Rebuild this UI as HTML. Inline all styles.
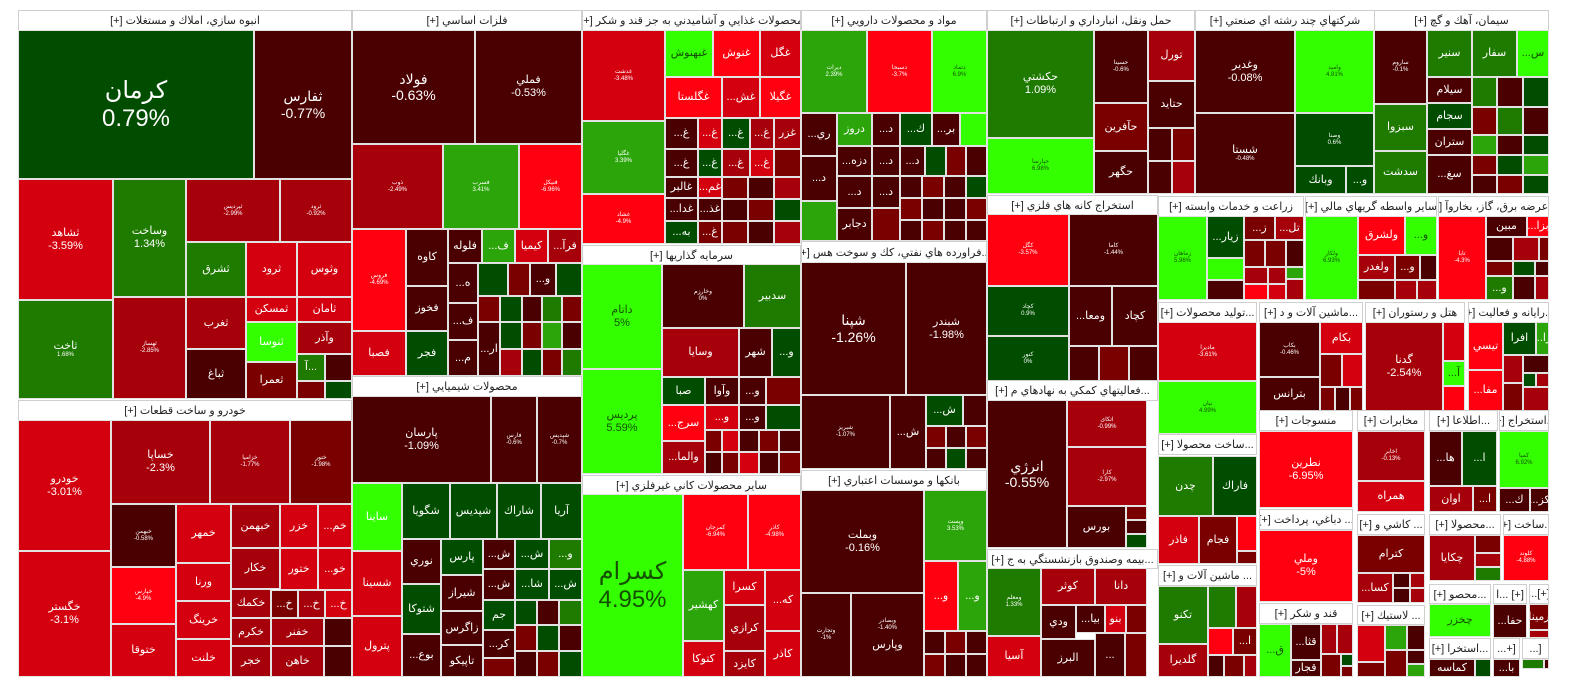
<!DOCTYPE html>
<html><head><meta charset="utf-8"><style>
body{margin:0;width:1584px;height:698px;background:#fff;position:relative;overflow:hidden;font-family:"Liberation Sans","DejaVu Sans",sans-serif}
.t{position:absolute;box-sizing:border-box;border:1px solid #e2e2e2;display:flex;flex-direction:column;align-items:center;justify-content:center;color:#fff;font-size:12px;line-height:1.15;text-align:center;overflow:hidden;white-space:nowrap;direction:ltr}
.h{position:absolute;box-sizing:border-box;background:#fff;border:1px solid #cfcfcf;color:#222;font-size:11px;display:flex;align-items:center;justify-content:center;direction:rtl;overflow:hidden;white-space:nowrap}
.r1{background:#4a0000}.r2{background:#7a0000}.r3{background:#a6000b}.r4{background:#d4000f}.r5{background:#ff0010}
.g1{background:#004d00}.g2{background:#1e7b00}.g3{background:#2ba50a}.g4{background:#33ff00;color:#145000}
.s{font-size:6px}.m{font-size:11px}.l{font-size:14px}.xl{font-size:24px}
</style></head><body>

<!-- Sector 1 -->
<div class="h" style="left:18px;top:10px;width:334px;height:21px">انبوه سازي، املاك و مستغلات [+]</div>
<div class="t g1 xl" style="left:18px;top:30px;width:236px;height:149px">كرمان<br>0.79%</div>
<div class="t r1 l" style="left:254px;top:30px;width:98px;height:149px">ثفارس<br>-0.77%</div>
<div class="t r4 m" style="left:18px;top:179px;width:95px;height:121px">ثشاهد<br>-3.59%</div>
<div class="t g2 s" style="left:18px;top:300px;width:95px;height:99px"><span class="m">ثاخت</span>1.68%</div>
<div class="t g2 m" style="left:113px;top:179px;width:73px;height:118px">وساخت<br>1.34%</div>
<div class="t r3 s" style="left:113px;top:297px;width:73px;height:102px">ثهساز<br>-2.85%</div>
<div class="t r3 s" style="left:186px;top:179px;width:94px;height:63px">ثپردیس<br>-2.99%</div>
<div class="t r3 s" style="left:280px;top:179px;width:72px;height:63px">ثرود<br>-0.92%</div>
<div class="t g2 m" style="left:186px;top:242px;width:60px;height:55px">ثشرق</div>
<div class="t r4 m" style="left:246px;top:242px;width:51px;height:55px">ثرود</div>
<div class="t r4 m" style="left:297px;top:242px;width:55px;height:55px">وثوس</div>
<div class="t r3 m" style="left:186px;top:297px;width:60px;height:52px">ثغرب</div>
<div class="t r4 m" style="left:246px;top:297px;width:51px;height:25px">ثمسكن</div>
<div class="t r4 m" style="left:297px;top:297px;width:55px;height:25px">ثامان</div>
<div class="t g4 m" style="left:246px;top:322px;width:51px;height:40px;color:#fff">ثنوسا</div>
<div class="t r3 m" style="left:297px;top:322px;width:55px;height:32px">وآذر</div>
<div class="t r1 m" style="left:186px;top:349px;width:60px;height:50px">ثباغ</div>
<div class="t r2 m" style="left:246px;top:362px;width:51px;height:37px">ثعمرا</div>
<div class="t g2 m" style="left:297px;top:354px;width:28px;height:27px">آ...</div>
<div class="t r1" style="left:325px;top:354px;width:27px;height:27px"></div>
<div class="t r2" style="left:297px;top:381px;width:28px;height:18px"></div>
<div class="t g1" style="left:325px;top:381px;width:27px;height:18px"></div>

<!-- Khodro -->
<div class="h" style="left:18px;top:400px;width:334px;height:21px">خودرو و ساخت قطعات [+]</div>
<div class="t r4 m" style="left:18px;top:420px;width:93px;height:131px">خودرو<br>-3.01%</div>
<div class="t r4 m" style="left:18px;top:551px;width:93px;height:126px">خگستر<br>-3.1%</div>
<div class="t r3 m" style="left:111px;top:420px;width:99px;height:84px">خساپا<br>-2.3%</div>
<div class="t r3 s" style="left:210px;top:420px;width:80px;height:84px">خزامیا<br>-1.77%</div>
<div class="t r2 s" style="left:290px;top:420px;width:62px;height:84px">ختور<br>-1.98%</div>
<div class="t r1 s" style="left:111px;top:504px;width:65px;height:63px">خبهمن<br>-0.58%</div>
<div class="t r5 s" style="left:111px;top:567px;width:65px;height:57px">خپارس<br>-4.9%</div>
<div class="t r4 m" style="left:111px;top:624px;width:65px;height:53px">ختوقا</div>
<div class="t r4 m" style="left:176px;top:504px;width:55px;height:59px">خمهر</div>
<div class="t r4 m" style="left:176px;top:563px;width:55px;height:38px">ورنا</div>
<div class="t r4 m" style="left:176px;top:601px;width:55px;height:38px">خرينگ</div>
<div class="t r4 m" style="left:176px;top:639px;width:55px;height:38px">خلنت</div>
<div class="t r3 m" style="left:231px;top:504px;width:49px;height:44px">خبهمن</div>
<div class="t r4 m" style="left:280px;top:504px;width:38px;height:44px">خزر</div>
<div class="t r4 m" style="left:318px;top:504px;width:34px;height:44px">...خم</div>
<div class="t r3 m" style="left:231px;top:548px;width:49px;height:41px">خكار</div>
<div class="t r4 m" style="left:280px;top:548px;width:38px;height:42px">ختور</div>
<div class="t r4 m" style="left:318px;top:548px;width:34px;height:42px">...خو</div>
<div class="t r3 m" style="left:231px;top:589px;width:40px;height:29px">خكمك</div>
<div class="t r2 m" style="left:271px;top:590px;width:27px;height:28px">...خ</div>
<div class="t r3 m" style="left:298px;top:590px;width:27px;height:28px">...خ</div>
<div class="t r4 m" style="left:325px;top:590px;width:27px;height:28px">...خ</div>
<div class="t r3 m" style="left:231px;top:618px;width:40px;height:28px">خكرم</div>
<div class="t r3 m" style="left:271px;top:618px;width:53px;height:28px">خفنر</div>
<div class="t r1" style="left:324px;top:618px;width:28px;height:28px"></div>
<div class="t r3 m" style="left:231px;top:646px;width:40px;height:31px">خجر</div>
<div class="t r3 m" style="left:271px;top:646px;width:53px;height:31px">خاهن</div>
<div class="t r1" style="left:324px;top:646px;width:28px;height:31px"></div>

<!-- Felezat -->
<div class="h" style="left:352px;top:10px;width:230px;height:21px">فلزات اساسي [+]</div>
<div class="t r1 l" style="left:352px;top:30px;width:123px;height:114px">فولاد<br>-0.63%</div>
<div class="t r1 m" style="left:475px;top:30px;width:107px;height:114px">فملي<br>-0.53%</div>
<div class="t r3 s" style="left:352px;top:144px;width:91px;height:85px">ذوب<br>-2.49%</div>
<div class="t g3 s" style="left:443px;top:144px;width:76px;height:85px">فسرب<br>3.41%</div>
<div class="t r5 s" style="left:519px;top:144px;width:63px;height:85px">فنيكل<br>-6.96%</div>
<div class="t r5 s" style="left:352px;top:229px;width:54px;height:102px">فروس<br>-4.69%</div>
<div class="t r4 m" style="left:352px;top:331px;width:54px;height:45px">فصبا</div>
<div class="t r1 m" style="left:406px;top:229px;width:42px;height:57px">كاوه</div>
<div class="t r1 m" style="left:406px;top:286px;width:42px;height:45px">فخوز</div>
<div class="t g1 m" style="left:406px;top:331px;width:42px;height:45px">فجر</div>
<div class="t r1 m" style="left:448px;top:229px;width:34px;height:34px">فلوله</div>
<div class="t g3 m" style="left:482px;top:229px;width:33px;height:34px">...ف</div>
<div class="t r4 m" style="left:515px;top:229px;width:33px;height:34px">كيميا</div>
<div class="t r3 m" style="left:548px;top:229px;width:34px;height:34px">...فرآ</div>
<div class="t r1 m" style="left:448px;top:263px;width:30px;height:40px">...ه</div>
<div class="t r1 m" style="left:448px;top:303px;width:30px;height:37px">...ف</div>
<div class="t r1 m" style="left:448px;top:340px;width:30px;height:36px">...م</div>
<div class="t g1" style="left:478px;top:263px;width:30px;height:33px"></div>
<div class="t r2" style="left:508px;top:263px;width:22px;height:33px"></div>
<div class="t r1 m" style="left:530px;top:263px;width:26px;height:33px">...و</div>
<div class="t g1" style="left:556px;top:263px;width:26px;height:33px"></div>
<div class="t r2" style="left:478px;top:296px;width:22px;height:26px"></div>
<div class="t g1" style="left:500px;top:296px;width:22px;height:26px"></div>
<div class="t r1" style="left:522px;top:296px;width:20px;height:26px"></div>
<div class="t g2" style="left:542px;top:296px;width:20px;height:26px"></div>
<div class="t r2" style="left:562px;top:296px;width:20px;height:26px"></div>
<div class="t r1 m" style="left:478px;top:322px;width:22px;height:54px">...ار</div>
<div class="t g1" style="left:500px;top:322px;width:22px;height:27px"></div>
<div class="t r2" style="left:522px;top:322px;width:20px;height:27px"></div>
<div class="t g3" style="left:542px;top:322px;width:20px;height:27px"></div>
<div class="t r1" style="left:562px;top:322px;width:20px;height:27px"></div>
<div class="t r3" style="left:500px;top:349px;width:22px;height:27px"></div>
<div class="t g1" style="left:522px;top:349px;width:20px;height:27px"></div>
<div class="t r2" style="left:542px;top:349px;width:20px;height:27px"></div>
<div class="t g2" style="left:562px;top:349px;width:20px;height:27px"></div>

<!-- Shimiyai -->
<div class="h" style="left:352px;top:376px;width:230px;height:21px">محصولات شيميايي [+]</div>
<div class="t r1 m" style="left:352px;top:396px;width:139px;height:87px">پارسان<br>-1.09%</div>
<div class="t r1 s" style="left:491px;top:396px;width:46px;height:87px">فارس<br>-0.6%</div>
<div class="t r1 s" style="left:537px;top:396px;width:45px;height:87px">شپدیس<br>-0.7%</div>
<div class="t g4 m" style="left:352px;top:483px;width:50px;height:68px;color:#fff">ساينا</div>
<div class="t r4 m" style="left:352px;top:551px;width:50px;height:65px">شسينا</div>
<div class="t r4 m" style="left:352px;top:616px;width:50px;height:61px">پترول</div>
<div class="t g1 m" style="left:402px;top:483px;width:48px;height:56px">شگويا</div>
<div class="t g1 m" style="left:450px;top:483px;width:47px;height:56px">شپديس</div>
<div class="t g1 m" style="left:497px;top:483px;width:44px;height:56px">شاراك</div>
<div class="t g1 m" style="left:541px;top:483px;width:41px;height:56px">آريا</div>
<div class="t r1 m" style="left:402px;top:539px;width:39px;height:45px">نوري</div>
<div class="t g1 m" style="left:402px;top:584px;width:39px;height:50px">شتوكا</div>
<div class="t r1 m" style="left:402px;top:634px;width:39px;height:43px">...بوع</div>
<div class="t g1 m" style="left:441px;top:539px;width:42px;height:36px">پارس</div>
<div class="t r1 m" style="left:441px;top:575px;width:42px;height:36px">شيراز</div>
<div class="t r1 m" style="left:441px;top:611px;width:42px;height:34px">زاگرس</div>
<div class="t r1 m" style="left:441px;top:645px;width:42px;height:32px">تاپيكو</div>
<div class="t r1 m" style="left:483px;top:539px;width:32px;height:30px">...ش</div>
<div class="t g1 m" style="left:515px;top:539px;width:34px;height:30px">...ش</div>
<div class="t g2 m" style="left:549px;top:539px;width:33px;height:30px">...و</div>
<div class="t r1 m" style="left:483px;top:569px;width:32px;height:31px">...ش</div>
<div class="t g1 m" style="left:515px;top:569px;width:34px;height:31px">...شا</div>
<div class="t g1 m" style="left:549px;top:569px;width:33px;height:31px">...ش</div>
<div class="t g1 m" style="left:483px;top:600px;width:32px;height:30px">جم</div>
<div class="t r1 m" style="left:483px;top:630px;width:32px;height:28px">...كر</div>
<div class="t r2" style="left:483px;top:658px;width:32px;height:19px"></div>
<div class="t g1" style="left:515px;top:600px;width:22px;height:25px"></div>
<div class="t r1" style="left:537px;top:600px;width:22px;height:25px"></div>
<div class="t g2" style="left:559px;top:600px;width:23px;height:25px"></div>
<div class="t r2" style="left:515px;top:625px;width:22px;height:26px"></div>
<div class="t g1" style="left:537px;top:625px;width:22px;height:26px"></div>
<div class="t r1" style="left:559px;top:625px;width:23px;height:26px"></div>
<div class="t r1" style="left:515px;top:651px;width:22px;height:26px"></div>
<div class="t r2" style="left:537px;top:651px;width:22px;height:26px"></div>
<div class="t g1" style="left:559px;top:651px;width:23px;height:26px"></div>

<!-- Ghaza -->
<div class="h" style="left:582px;top:10px;width:219px;height:21px">محصولات غذايي و آشاميدني به جز قند و شكر [+]</div>
<div class="t r4 s" style="left:582px;top:30px;width:83px;height:91px">غدشت<br>-3.48%</div>
<div class="t g3 s" style="left:582px;top:121px;width:83px;height:73px">غگلپا<br>3.39%</div>
<div class="t r5 s" style="left:582px;top:194px;width:83px;height:50px">غشاد<br>-4.9%</div>
<div class="t g4 m" style="left:665px;top:30px;width:48px;height:47px;color:#145000">غبهنوش</div>
<div class="t r5 m" style="left:713px;top:30px;width:47px;height:47px">غنوش</div>
<div class="t r4 m" style="left:760px;top:30px;width:41px;height:47px">غگل</div>
<div class="t r5 m" style="left:665px;top:77px;width:57px;height:41px">غگلستا</div>
<div class="t r4 m" style="left:722px;top:77px;width:38px;height:41px">...غش</div>
<div class="t r5 m" style="left:760px;top:77px;width:41px;height:41px">غگيلا</div>
<div class="t r1 m" style="left:665px;top:118px;width:33px;height:31px">...غ</div>
<div class="t r4 m" style="left:698px;top:118px;width:24px;height:31px">...غ</div>
<div class="t g1 m" style="left:722px;top:118px;width:28px;height:31px">...غ</div>
<div class="t r3 m" style="left:750px;top:118px;width:24px;height:31px">...غ</div>
<div class="t r3 m" style="left:774px;top:118px;width:27px;height:31px">غزر</div>
<div class="t r1 m" style="left:665px;top:149px;width:33px;height:28px">...غ</div>
<div class="t g1 m" style="left:698px;top:149px;width:24px;height:28px">...غ</div>
<div class="t r3 m" style="left:722px;top:149px;width:28px;height:28px">...غ</div>
<div class="t r4 m" style="left:750px;top:149px;width:24px;height:28px">...غ</div>
<div class="t r2" style="left:774px;top:149px;width:27px;height:28px"></div>
<div class="t r1 m" style="left:665px;top:177px;width:33px;height:21px">غالبر</div>
<div class="t r4 m" style="left:698px;top:177px;width:24px;height:21px">...غم</div>
<div class="t r1 m" style="left:665px;top:198px;width:33px;height:23px">...غدا</div>
<div class="t r1 m" style="left:698px;top:198px;width:24px;height:23px">...غذ</div>
<div class="t g1 m" style="left:665px;top:221px;width:33px;height:23px">...به</div>
<div class="t r2 m" style="left:698px;top:221px;width:24px;height:23px">...غ</div>
<div class="t r2" style="left:722px;top:177px;width:26px;height:22px"></div>
<div class="t r1" style="left:748px;top:177px;width:26px;height:22px"></div>
<div class="t r3" style="left:774px;top:177px;width:27px;height:22px"></div>
<div class="t r1" style="left:722px;top:199px;width:26px;height:22px"></div>
<div class="t r2" style="left:748px;top:199px;width:26px;height:22px"></div>
<div class="t g1" style="left:774px;top:199px;width:27px;height:22px"></div>
<div class="t r2" style="left:722px;top:221px;width:26px;height:23px"></div>
<div class="t r1" style="left:748px;top:221px;width:26px;height:23px"></div>
<div class="t r3" style="left:774px;top:221px;width:27px;height:23px"></div>

<!-- Sarmaye -->
<div class="h" style="left:582px;top:245px;width:219px;height:20px">سرمايه گذاريها [+]</div>
<div class="t g4 s" style="left:582px;top:264px;width:80px;height:105px"><span class="m">داتام</span><span class="m">5%</span></div>
<div class="t g4 s" style="left:582px;top:369px;width:80px;height:105px"><span class="m">پرديس</span><span class="m">5.59%</span></div>
<div class="t r1 s" style="left:662px;top:264px;width:82px;height:64px">وخارزم<br>0%</div>
<div class="t g2 m" style="left:744px;top:264px;width:57px;height:64px">سدبير</div>
<div class="t r3 m" style="left:662px;top:328px;width:77px;height:49px">وسايا</div>
<div class="t r1 m" style="left:739px;top:328px;width:33px;height:49px">شهر</div>
<div class="t g1 m" style="left:772px;top:328px;width:29px;height:49px">...و</div>
<div class="t g1 m" style="left:662px;top:377px;width:43px;height:28px">صبا</div>
<div class="t r1 m" style="left:705px;top:377px;width:34px;height:28px">وآوا</div>
<div class="t r1 m" style="left:739px;top:377px;width:27px;height:28px">...و</div>
<div class="t r2" style="left:766px;top:377px;width:35px;height:28px"></div>
<div class="t r5 m" style="left:662px;top:405px;width:43px;height:36px">...سرج</div>
<div class="t r3 m" style="left:662px;top:441px;width:43px;height:33px">...والما</div>
<div class="t r4 m" style="left:705px;top:405px;width:34px;height:25px">...و</div>
<div class="t r1 m" style="left:739px;top:405px;width:27px;height:25px">...و</div>
<div class="t g1" style="left:766px;top:405px;width:35px;height:25px"></div>
<div class="t r2" style="left:705px;top:430px;width:17px;height:22px"></div>
<div class="t r4" style="left:722px;top:430px;width:17px;height:22px"></div>
<div class="t r1" style="left:739px;top:430px;width:20px;height:22px"></div>
<div class="t r2" style="left:759px;top:430px;width:20px;height:22px"></div>
<div class="t r1" style="left:779px;top:430px;width:22px;height:22px"></div>
<div class="t r1" style="left:705px;top:452px;width:17px;height:22px"></div>
<div class="t r2" style="left:722px;top:452px;width:17px;height:22px"></div>
<div class="t r4" style="left:739px;top:452px;width:20px;height:22px"></div>
<div class="t r1" style="left:759px;top:452px;width:20px;height:22px"></div>
<div class="t r2" style="left:779px;top:452px;width:22px;height:22px"></div>

<!-- Kani -->
<div class="h" style="left:582px;top:475px;width:219px;height:20px">ساير محصولات كاني غيرفلزي [+]</div>
<div class="t g4 xl" style="left:582px;top:494px;width:101px;height:183px;color:#145000">كسرام<br>4.95%</div>
<div class="t r5 s" style="left:683px;top:494px;width:65px;height:76px">كمرجان<br>-6.94%</div>
<div class="t r5 s" style="left:748px;top:494px;width:53px;height:76px">كاذر<br>-4.98%</div>
<div class="t g3 m" style="left:683px;top:570px;width:41px;height:71px">كهشير</div>
<div class="t r4 m" style="left:724px;top:570px;width:41px;height:35px">كسرا</div>
<div class="t r4 m" style="left:765px;top:570px;width:36px;height:61px">...كه</div>
<div class="t r3 m" style="left:724px;top:605px;width:41px;height:46px">كرازي</div>
<div class="t r4 m" style="left:683px;top:641px;width:41px;height:36px">كتوكا</div>
<div class="t r3 m" style="left:724px;top:651px;width:41px;height:26px">كايزد</div>
<div class="t r4 m" style="left:765px;top:631px;width:36px;height:46px">كاذر</div>

<!-- Daru -->
<div class="h" style="left:801px;top:10px;width:186px;height:21px">مواد و محصولات دارويي [+]</div>
<div class="t g3 s" style="left:801px;top:30px;width:66px;height:83px">دیرات<br>2.39%</div>
<div class="t r5 s" style="left:867px;top:30px;width:65px;height:83px">دسبحا<br>-3.7%</div>
<div class="t g4 s" style="left:932px;top:30px;width:55px;height:83px">دتماد<br>6.9%</div>
<div class="t r1 m" style="left:801px;top:113px;width:36px;height:43px">...ري</div>
<div class="t r1 m" style="left:801px;top:156px;width:36px;height:45px">...د</div>
<div class="t g3" style="left:801px;top:201px;width:36px;height:40px"></div>
<div class="t g3 m" style="left:837px;top:113px;width:35px;height:33px">دروز</div>
<div class="t r1 m" style="left:872px;top:113px;width:28px;height:33px">...د</div>
<div class="t g1 m" style="left:900px;top:113px;width:32px;height:33px">...ك</div>
<div class="t r1 m" style="left:932px;top:113px;width:28px;height:33px">...بر</div>
<div class="t g4" style="left:960px;top:113px;width:27px;height:33px"></div>
<div class="t r1 m" style="left:837px;top:146px;width:35px;height:30px">...دزه</div>
<div class="t r1 m" style="left:872px;top:146px;width:28px;height:30px">...د</div>
<div class="t r1 m" style="left:900px;top:146px;width:25px;height:30px">...د</div>
<div class="t g1" style="left:925px;top:146px;width:21px;height:30px"></div>
<div class="t r2" style="left:946px;top:146px;width:20px;height:30px"></div>
<div class="t r1" style="left:966px;top:146px;width:21px;height:30px"></div>
<div class="t r1 m" style="left:837px;top:176px;width:35px;height:32px">...د</div>
<div class="t r1 m" style="left:837px;top:208px;width:35px;height:33px">دجابر</div>
<div class="t r1 m" style="left:872px;top:176px;width:28px;height:32px">...د</div>
<div class="t r2" style="left:872px;top:208px;width:28px;height:33px"></div>
<div class="t r1" style="left:900px;top:176px;width:22px;height:22px"></div>
<div class="t r2" style="left:922px;top:176px;width:22px;height:22px"></div>
<div class="t r1" style="left:944px;top:176px;width:22px;height:22px"></div>
<div class="t g1" style="left:966px;top:176px;width:21px;height:22px"></div>
<div class="t r2" style="left:900px;top:198px;width:22px;height:22px"></div>
<div class="t r1" style="left:922px;top:198px;width:22px;height:22px"></div>
<div class="t r1" style="left:944px;top:198px;width:22px;height:22px"></div>
<div class="t r2" style="left:966px;top:198px;width:21px;height:22px"></div>
<div class="t r1" style="left:900px;top:220px;width:22px;height:21px"></div>
<div class="t r2" style="left:922px;top:220px;width:22px;height:21px"></div>
<div class="t r1" style="left:944px;top:220px;width:22px;height:21px"></div>
<div class="t r1" style="left:966px;top:220px;width:21px;height:21px"></div>

<!-- Naft -->
<div class="h" style="left:801px;top:241px;width:186px;height:22px">...فراورده هاي نفتي، كك و سوخت هس [+]</div>
<div class="t r1 l" style="left:801px;top:262px;width:105px;height:133px">شپنا<br>-1.26%</div>
<div class="t r1 m" style="left:906px;top:262px;width:81px;height:133px">شبندر<br>-1.98%</div>
<div class="t r1 s" style="left:801px;top:395px;width:89px;height:74px">شبریز<br>-1.07%</div>
<div class="t r1 m" style="left:890px;top:395px;width:36px;height:74px">...ش</div>
<div class="t g1 m" style="left:926px;top:395px;width:37px;height:31px">...ش</div>
<div class="t r1" style="left:963px;top:395px;width:24px;height:31px"></div>
<div class="t r2" style="left:926px;top:426px;width:20px;height:22px"></div>
<div class="t r1" style="left:946px;top:426px;width:20px;height:22px"></div>
<div class="t r2" style="left:966px;top:426px;width:21px;height:22px"></div>
<div class="t r1" style="left:926px;top:448px;width:20px;height:21px"></div>
<div class="t g1" style="left:946px;top:448px;width:20px;height:21px"></div>
<div class="t r1" style="left:966px;top:448px;width:21px;height:21px"></div>

<!-- Bank -->
<div class="h" style="left:801px;top:470px;width:186px;height:21px">بانكها و موسسات اعتباري [+]</div>
<div class="t r1 m" style="left:801px;top:490px;width:123px;height:103px">وبملت<br>-0.16%</div>
<div class="t g3 s" style="left:924px;top:490px;width:63px;height:71px">وپست<br>3.53%</div>
<div class="t r1 s" style="left:801px;top:593px;width:50px;height:84px">وتجارت<br>-1%</div>
<div class="t r1 s" style="left:851px;top:593px;width:73px;height:84px">وبصادر<br>-1.40%<br><br><span class="m">وپارس</span></div>
<div class="t r5 m" style="left:924px;top:561px;width:34px;height:70px">...و</div>
<div class="t g3 m" style="left:958px;top:561px;width:29px;height:70px">...و</div>
<div class="t r1" style="left:924px;top:631px;width:21px;height:23px"></div>
<div class="t r2" style="left:945px;top:631px;width:21px;height:23px"></div>
<div class="t r1" style="left:966px;top:631px;width:21px;height:23px"></div>
<div class="t r2" style="left:924px;top:654px;width:21px;height:23px"></div>
<div class="t r1" style="left:945px;top:654px;width:21px;height:23px"></div>
<div class="t r1" style="left:966px;top:654px;width:21px;height:23px"></div>

<!-- Haml -->
<div class="h" style="left:987px;top:10px;width:208px;height:21px">حمل ونقل، انبارداري و ارتباطات [+]</div>
<div class="t g2 m" style="left:987px;top:30px;width:107px;height:108px">حكشتي<br>1.09%</div>
<div class="t g4 s" style="left:987px;top:138px;width:107px;height:56px">حپارسا<br>6.98%</div>
<div class="t r1 s" style="left:1094px;top:30px;width:54px;height:73px">حسینا<br>-0.6%</div>
<div class="t r3 m" style="left:1148px;top:30px;width:47px;height:51px">تورل</div>
<div class="t r1 m" style="left:1148px;top:81px;width:47px;height:47px">حتايد</div>
<div class="t r2 m" style="left:1094px;top:103px;width:54px;height:48px">حآفرين</div>
<div class="t r1 m" style="left:1094px;top:151px;width:54px;height:43px">حگهر</div>
<div class="t r1" style="left:1148px;top:128px;width:24px;height:33px"></div>
<div class="t r2" style="left:1172px;top:128px;width:23px;height:33px"></div>
<div class="t r1" style="left:1148px;top:161px;width:24px;height:33px"></div>
<div class="t r3" style="left:1172px;top:161px;width:23px;height:33px"></div>

<!-- Estekhraj kane -->
<div class="h" style="left:987px;top:195px;width:171px;height:20px">استخراج كانه هاي فلزي [+]</div>
<div class="t r5 s" style="left:987px;top:214px;width:82px;height:72px">کگل<br>-3.57%</div>
<div class="t r1 s" style="left:1069px;top:214px;width:89px;height:72px">كاما<br>-1.44%</div>
<div class="t g1 s" style="left:987px;top:286px;width:82px;height:50px">کچاد<br>0.9%</div>
<div class="t g1 s" style="left:987px;top:336px;width:82px;height:45px">کنور<br>0%</div>
<div class="t r1 m" style="left:1069px;top:286px;width:43px;height:60px">...ومعا</div>
<div class="t r1 m" style="left:1112px;top:286px;width:46px;height:60px">كچاد</div>
<div class="t r1" style="left:1069px;top:346px;width:30px;height:35px"></div>
<div class="t r2" style="left:1099px;top:346px;width:30px;height:35px"></div>
<div class="t r1" style="left:1129px;top:346px;width:29px;height:35px"></div>

<!-- Faaliat -->
<div class="h" style="left:987px;top:380px;width:171px;height:21px">...فعاليتهاي كمكي به نهادهاي م [+]</div>
<div class="t r1 l" style="left:987px;top:400px;width:80px;height:148px">انرژي<br>-0.55%</div>
<div class="t r3 s" style="left:1067px;top:400px;width:80px;height:47px">اتکای<br>-0.99%</div>
<div class="t r3 s" style="left:1067px;top:447px;width:80px;height:59px">کارا<br>-2.97%</div>
<div class="t r1 m" style="left:1067px;top:506px;width:59px;height:42px">بورس</div>
<div class="t r2" style="left:1126px;top:506px;width:21px;height:14px"></div>
<div class="t r1" style="left:1126px;top:520px;width:21px;height:14px"></div>
<div class="t g1" style="left:1126px;top:534px;width:21px;height:14px"></div>

<!-- Bime -->
<div class="h" style="left:987px;top:549px;width:171px;height:20px">...بيمه وصندوق بازنشستگي به ج [+]</div>
<div class="t g2 s" style="left:987px;top:568px;width:54px;height:68px">ومعلم<br>1.33%</div>
<div class="t r4 m" style="left:987px;top:636px;width:54px;height:41px">آسيا</div>
<div class="t r3 m" style="left:1041px;top:568px;width:54px;height:37px">كوثر</div>
<div class="t r3 m" style="left:1095px;top:568px;width:52px;height:37px">دانا</div>
<div class="t r1 m" style="left:1041px;top:605px;width:35px;height:34px">ودي</div>
<div class="t r1 m" style="left:1076px;top:605px;width:29px;height:28px">...بيا</div>
<div class="t r4 m" style="left:1105px;top:605px;width:21px;height:28px">بنو</div>
<div class="t r2" style="left:1126px;top:605px;width:21px;height:28px"></div>
<div class="t r1 m" style="left:1041px;top:639px;width:54px;height:38px">البرز</div>
<div class="t r1 m" style="left:1095px;top:633px;width:30px;height:44px">...</div>
<div class="t r2" style="left:1125px;top:633px;width:22px;height:44px"></div>

<!-- Chand reshte -->
<div class="h" style="left:1195px;top:10px;width:180px;height:21px">شركتهاي چند رشته اي صنعتي [+]</div>
<div class="t r1 m" style="left:1195px;top:30px;width:100px;height:83px">وغدير<br>-0.08%</div>
<div class="t r1 s" style="left:1195px;top:113px;width:100px;height:81px"><span class="m">شستا</span>-0.48%</div>
<div class="t g4 s" style="left:1295px;top:30px;width:79px;height:83px">واميد<br>4.81%</div>
<div class="t g1 s" style="left:1295px;top:113px;width:79px;height:53px">وصنا<br>0.6%</div>
<div class="t g1 m" style="left:1295px;top:166px;width:51px;height:28px">وبانك</div>
<div class="t g1 m" style="left:1346px;top:166px;width:28px;height:28px">...و</div>

<!-- Siman -->
<div class="h" style="left:1374px;top:10px;width:175px;height:21px">سيمان، آهك و گچ [+]</div>
<div class="t r1 s" style="left:1374px;top:30px;width:53px;height:74px">ساروم<br>-0.1%</div>
<div class="t g2 m" style="left:1374px;top:104px;width:53px;height:47px">سبزوا</div>
<div class="t g2 m" style="left:1374px;top:151px;width:53px;height:43px">سدشت</div>
<div class="t g2 m" style="left:1427px;top:30px;width:45px;height:47px">سنير</div>
<div class="t g2 m" style="left:1472px;top:30px;width:45px;height:47px">سفار</div>
<div class="t g4 m" style="left:1517px;top:30px;width:32px;height:47px;color:#145000">...س</div>
<div class="t r1 m" style="left:1427px;top:77px;width:45px;height:26px">سيلام</div>
<div class="t g1 m" style="left:1427px;top:103px;width:45px;height:26px">سجام</div>
<div class="t r1 m" style="left:1427px;top:129px;width:45px;height:26px">ستران</div>
<div class="t r1 m" style="left:1427px;top:155px;width:45px;height:39px">...سغ</div>
<div class="t g2" style="left:1472px;top:77px;width:25px;height:30px"></div>
<div class="t r1" style="left:1497px;top:77px;width:26px;height:30px"></div>
<div class="t g1" style="left:1523px;top:77px;width:26px;height:30px"></div>
<div class="t r2" style="left:1472px;top:107px;width:25px;height:28px"></div>
<div class="t g2" style="left:1497px;top:107px;width:26px;height:28px"></div>
<div class="t r1" style="left:1523px;top:107px;width:26px;height:28px"></div>
<div class="t g3" style="left:1472px;top:135px;width:25px;height:20px"></div>
<div class="t r1" style="left:1497px;top:135px;width:26px;height:20px"></div>
<div class="t g1" style="left:1523px;top:135px;width:26px;height:20px"></div>
<div class="t r2" style="left:1472px;top:155px;width:25px;height:20px"></div>
<div class="t g1" style="left:1497px;top:155px;width:26px;height:20px"></div>
<div class="t g3" style="left:1523px;top:155px;width:26px;height:20px"></div>
<div class="t r1" style="left:1472px;top:175px;width:25px;height:19px"></div>
<div class="t r2" style="left:1497px;top:175px;width:26px;height:19px"></div>
<div class="t g1" style="left:1523px;top:175px;width:26px;height:19px"></div>

<!-- Zeraat -->
<div class="h" style="left:1158px;top:196px;width:146px;height:21px">زراعت و خدمات وابسته [+]</div>
<div class="t g4 s" style="left:1158px;top:216px;width:49px;height:84px">زماهان<br>5.96%</div>
<div class="t g1 m" style="left:1207px;top:216px;width:37px;height:42px">...زيار</div>
<div class="t g4" style="left:1207px;top:258px;width:37px;height:22px"></div>
<div class="t r1" style="left:1207px;top:280px;width:37px;height:20px"></div>
<div class="t r2 m" style="left:1244px;top:216px;width:31px;height:24px">...ز</div>
<div class="t r3 m" style="left:1275px;top:216px;width:29px;height:24px">...تل</div>
<div class="t r2" style="left:1244px;top:240px;width:21px;height:27px"></div>
<div class="t r2" style="left:1265px;top:240px;width:21px;height:27px"></div>
<div class="t r1" style="left:1286px;top:240px;width:18px;height:27px"></div>
<div class="t r3" style="left:1244px;top:267px;width:24px;height:17px"></div>
<div class="t r3" style="left:1268px;top:267px;width:18px;height:17px"></div>
<div class="t g3" style="left:1286px;top:267px;width:18px;height:12px"></div>
<div class="t r5" style="left:1244px;top:284px;width:24px;height:16px"></div>
<div class="t r4" style="left:1268px;top:284px;width:18px;height:16px"></div>
<div class="t r3" style="left:1286px;top:279px;width:18px;height:21px"></div>

<!-- Vaseteh -->
<div class="h" style="left:1305px;top:196px;width:132px;height:21px">ساير واسطه گريهاي مالي [+]</div>
<div class="t g4 s" style="left:1305px;top:216px;width:53px;height:84px">ولکار<br>6.93%</div>
<div class="t r5 m" style="left:1358px;top:216px;width:47px;height:39px">ولشرق</div>
<div class="t g4 m" style="left:1405px;top:216px;width:32px;height:39px;color:#145000">...و</div>
<div class="t r3 m" style="left:1358px;top:255px;width:37px;height:25px">ولغدر</div>
<div class="t r2 m" style="left:1395px;top:255px;width:25px;height:25px">...و</div>
<div class="t r1" style="left:1420px;top:255px;width:17px;height:25px"></div>
<div class="t r2" style="left:1358px;top:280px;width:37px;height:20px"></div>
<div class="t r3" style="left:1395px;top:280px;width:22px;height:20px"></div>
<div class="t r3" style="left:1417px;top:280px;width:20px;height:20px"></div>

<!-- Barq -->
<div class="h" style="left:1438px;top:196px;width:111px;height:21px">...عرضه برق، گاز، بخاروآ [+]</div>
<div class="t r5 s" style="left:1438px;top:216px;width:48px;height:84px">تابا<br>-4.3%</div>
<div class="t r1 m" style="left:1486px;top:216px;width:41px;height:21px">مبين</div>
<div class="t r5 m" style="left:1527px;top:216px;width:22px;height:21px">...بزا</div>
<div class="t r1" style="left:1486px;top:237px;width:27px;height:24px"></div>
<div class="t r3" style="left:1513px;top:237px;width:26px;height:24px"></div>
<div class="t r2 m" style="left:1539px;top:237px;width:10px;height:24px"></div>
<div class="t g2 m" style="left:1486px;top:276px;width:27px;height:24px">...و</div>
<div class="t r2" style="left:1486px;top:261px;width:27px;height:15px"></div>
<div class="t g1" style="left:1513px;top:261px;width:22px;height:15px"></div>
<div class="t r1" style="left:1535px;top:261px;width:14px;height:15px"></div>
<div class="t r1" style="left:1513px;top:276px;width:22px;height:24px"></div>
<div class="t r3" style="left:1535px;top:276px;width:14px;height:24px"></div>

<!-- Tolid -->
<div class="h" style="left:1158px;top:302px;width:99px;height:21px">...توليد محصولات [+]</div>
<div class="t r4 s" style="left:1158px;top:322px;width:99px;height:59px">ماديرا<br>-3.61%</div>
<div class="t g4 s" style="left:1158px;top:381px;width:99px;height:53px">نيان<br>4.99%</div>
<div class="h" style="left:1259px;top:302px;width:104px;height:21px">...ماشين آلات و د [+]</div>
<div class="t r1 s" style="left:1259px;top:322px;width:61px;height:55px">بکاب<br>-0.46%</div>
<div class="t r4 m" style="left:1320px;top:322px;width:43px;height:32px">بكام</div>
<div class="t r1 m" style="left:1259px;top:377px;width:61px;height:34px">بترانس</div>
<div class="t r2" style="left:1320px;top:354px;width:22px;height:33px"></div>
<div class="t r4" style="left:1342px;top:354px;width:21px;height:33px"></div>
<div class="t r2" style="left:1320px;top:387px;width:15px;height:24px"></div>
<div class="t r1" style="left:1335px;top:387px;width:15px;height:24px"></div>
<div class="t r2" style="left:1350px;top:387px;width:13px;height:24px"></div>
<div class="h" style="left:1365px;top:302px;width:100px;height:21px">هتل و رستوران [+]</div>
<div class="t r3 m" style="left:1365px;top:322px;width:78px;height:89px">گدنا<br>-2.54%</div>
<div class="t r4" style="left:1443px;top:322px;width:22px;height:39px"></div>
<div class="t g4 m" style="left:1443px;top:361px;width:22px;height:25px;color:#145000">...آ</div>
<div class="t r5" style="left:1443px;top:386px;width:22px;height:25px"></div>
<div class="h" style="left:1468px;top:302px;width:81px;height:21px">...رايانه و فعاليت [+]</div>
<div class="t r5 m" style="left:1468px;top:322px;width:35px;height:48px">تيسي</div>
<div class="t g1 m" style="left:1503px;top:322px;width:33px;height:33px">افرا</div>
<div class="t g3 m" style="left:1536px;top:322px;width:13px;height:33px">...را</div>
<div class="t r5 m" style="left:1468px;top:370px;width:35px;height:41px">...مفا</div>
<div class="t r3" style="left:1503px;top:355px;width:20px;height:28px"></div>
<div class="t r1" style="left:1523px;top:355px;width:26px;height:18px"></div>
<div class="t g1" style="left:1523px;top:373px;width:13px;height:14px"></div>
<div class="t r3" style="left:1536px;top:373px;width:13px;height:14px"></div>
<div class="t r2" style="left:1503px;top:383px;width:20px;height:28px"></div>
<div class="t r3" style="left:1523px;top:387px;width:26px;height:24px"></div>

<!-- Left column below -->
<div class="h" style="left:1158px;top:434px;width:99px;height:21px">...ساخت محصولا [+]</div>
<div class="t g2 m" style="left:1158px;top:456px;width:55px;height:60px">چدن</div>
<div class="t g1 m" style="left:1213px;top:456px;width:44px;height:60px">فاراك</div>
<div class="t r4 m" style="left:1158px;top:516px;width:41px;height:48px">فاذر</div>
<div class="t r2 m" style="left:1199px;top:516px;width:38px;height:48px">فجام</div>
<div class="t r5" style="left:1237px;top:516px;width:20px;height:35px"></div>
<div class="t r2" style="left:1237px;top:551px;width:20px;height:13px"></div>
<div class="h" style="left:1158px;top:565px;width:99px;height:21px">... ماشين آلات و [+]</div>
<div class="t g2 m" style="left:1158px;top:586px;width:50px;height:58px">تكنو</div>
<div class="t g2" style="left:1208px;top:586px;width:28px;height:42px"></div>
<div class="t r3" style="left:1236px;top:586px;width:21px;height:42px"></div>
<div class="t r3 m" style="left:1158px;top:644px;width:50px;height:33px">گلديرا</div>
<div class="t r5" style="left:1208px;top:628px;width:25px;height:27px"></div>
<div class="t r2 m" style="left:1233px;top:628px;width:24px;height:27px">...ا</div>
<div class="t r1" style="left:1208px;top:655px;width:16px;height:22px"></div>
<div class="t r2" style="left:1224px;top:655px;width:20px;height:22px"></div>
<div class="t r3" style="left:1244px;top:655px;width:13px;height:22px"></div>

<div class="h" style="left:1259px;top:410px;width:94px;height:21px">منسوجات [+]</div>
<div class="t r5 m" style="left:1259px;top:431px;width:94px;height:77px">نطرين<br>-6.95%</div>
<div class="h" style="left:1259px;top:509px;width:94px;height:21px">... دباغي، پرداخت [+]</div>
<div class="t r5 m" style="left:1259px;top:530px;width:94px;height:72px">وملي<br>-5%</div>
<div class="h" style="left:1259px;top:603px;width:94px;height:21px">قند و شكر [+]</div>
<div class="t g4 m" style="left:1259px;top:624px;width:32px;height:53px;color:#145000">...ق</div>
<div class="t r1 m" style="left:1291px;top:624px;width:30px;height:36px">...قثا</div>
<div class="t r1 m" style="left:1291px;top:660px;width:30px;height:17px">قجار</div>
<div class="t r3" style="left:1321px;top:624px;width:16px;height:30px"></div>
<div class="t r3" style="left:1337px;top:624px;width:16px;height:30px"></div>
<div class="t r2" style="left:1321px;top:654px;width:20px;height:23px"></div>
<div class="t g1" style="left:1341px;top:654px;width:12px;height:12px"></div>
<div class="t r2" style="left:1341px;top:666px;width:12px;height:11px"></div>

<div class="h" style="left:1357px;top:410px;width:68px;height:21px">مخابرات [+]</div>
<div class="t r3 s" style="left:1357px;top:431px;width:68px;height:50px">اخابر<br>-0.13%</div>
<div class="t r4 m" style="left:1357px;top:481px;width:68px;height:31px">همراه</div>
<div class="h" style="left:1357px;top:514px;width:68px;height:21px">... كاشي و [+]</div>
<div class="t r2 m" style="left:1357px;top:535px;width:68px;height:38px">كترام</div>
<div class="t r3 m" style="left:1357px;top:573px;width:36px;height:30px">...كسا</div>
<div class="t r1" style="left:1393px;top:573px;width:17px;height:15px"></div>
<div class="t r3" style="left:1410px;top:573px;width:15px;height:15px"></div>
<div class="t r1" style="left:1393px;top:588px;width:17px;height:15px"></div>
<div class="t r3" style="left:1410px;top:588px;width:15px;height:15px"></div>
<div class="h" style="left:1357px;top:605px;width:68px;height:20px">... لاستيك [+]</div>
<div class="t r4" style="left:1357px;top:625px;width:28px;height:37px"></div>
<div class="t g3" style="left:1385px;top:625px;width:22px;height:25px"></div>
<div class="t r1" style="left:1407px;top:625px;width:18px;height:25px"></div>
<div class="t r2" style="left:1357px;top:662px;width:28px;height:15px"></div>
<div class="t r2" style="left:1385px;top:650px;width:22px;height:27px"></div>
<div class="t r1" style="left:1407px;top:650px;width:18px;height:14px"></div>
<div class="t g3" style="left:1407px;top:664px;width:18px;height:13px"></div>

<div class="h" style="left:1429px;top:410px;width:69px;height:21px">...اطلاعا [+]</div>
<div class="t r1 m" style="left:1429px;top:431px;width:33px;height:55px">...ها</div>
<div class="t g1 m" style="left:1462px;top:431px;width:35px;height:55px">...ا</div>
<div class="t r3 m" style="left:1429px;top:486px;width:44px;height:26px">اوان</div>
<div class="t r2 m" style="left:1473px;top:486px;width:24px;height:26px">...ا</div>
<div class="h" style="left:1429px;top:514px;width:72px;height:21px">...محصولا [+]</div>
<div class="t r3 m" style="left:1429px;top:535px;width:46px;height:46px">چكايا</div>
<div class="t r2" style="left:1475px;top:535px;width:26px;height:18px"></div>
<div class="t r3" style="left:1475px;top:553px;width:26px;height:14px"></div>
<div class="t g2" style="left:1475px;top:567px;width:26px;height:14px"></div>
<div class="h" style="left:1429px;top:584px;width:62px;height:20px">...محصو [+]</div>
<div class="t g4 m" style="left:1429px;top:604px;width:62px;height:33px;color:#145000">چخزر</div>
<div class="h" style="left:1429px;top:638px;width:62px;height:21px">...استخرا [+]</div>
<div class="t r1 m" style="left:1429px;top:659px;width:46px;height:18px">كماسه</div>
<div class="t g1" style="left:1475px;top:659px;width:16px;height:18px"></div>

<div class="h" style="left:1499px;top:410px;width:50px;height:21px">...استخراج [+]</div>
<div class="t g4 s" style="left:1499px;top:431px;width:50px;height:57px">کمیا<br>6.92%</div>
<div class="t r1 m" style="left:1499px;top:488px;width:31px;height:24px">...ك</div>
<div class="t r1 m" style="left:1530px;top:488px;width:19px;height:24px">...كز</div>
<div class="h" style="left:1503px;top:514px;width:46px;height:21px">...ساخت [+]</div>
<div class="t r5 s" style="left:1503px;top:535px;width:46px;height:46px">کلوند<br>-4.88%</div>
<div class="h" style="left:1493px;top:584px;width:34px;height:20px">[+] ...ا</div>
<div class="t r1 m" style="left:1493px;top:604px;width:34px;height:34px">...حفا</div>
<div class="h" style="left:1529px;top:584px;width:20px;height:20px">[+]...</div>
<div class="t r2 m" style="left:1529px;top:604px;width:20px;height:26px">رمينا</div>
<div class="t r3" style="left:1529px;top:630px;width:20px;height:8px"></div>
<div class="h" style="left:1493px;top:638px;width:27px;height:21px">[+...</div>
<div class="t r1 m" style="left:1493px;top:659px;width:27px;height:18px">...با</div>
<div class="h" style="left:1522px;top:638px;width:27px;height:21px">[...</div>
<div class="t g2" style="left:1522px;top:659px;width:22px;height:10px"></div>
<div class="t r1" style="left:1544px;top:659px;width:5px;height:10px"></div>

</body></html>
